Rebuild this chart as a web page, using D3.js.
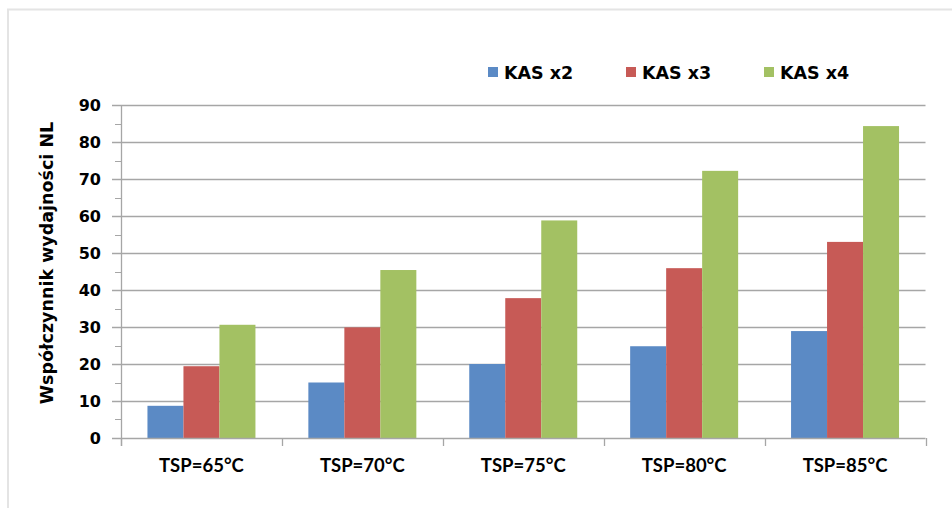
<!DOCTYPE html>
<html>
<head>
<meta charset="utf-8">
<script src="https://cdn.jsdelivr.net/npm/d3@7"></script>
<style>
html,body{margin:0;padding:0;background:#fff;}
svg{display:block;}
</style>
</head>
<body>
<svg id="chart" width="952" height="508"></svg>
<script>
const categories = ["TSP=65°C", "TSP=70°C", "TSP=75°C", "TSP=80°C", "TSP=85°C"];
const seriesNames = ["KAS x2", "KAS x3", "KAS x4"];
const kas2 = [8.7, 15.0, 20.0, 24.8, 28.9];
const kas3 = [19.4, 29.9, 37.8, 45.9, 53.0];
const kas4 = [30.6, 45.4, 58.8, 72.2, 84.3];
const yTicks = [0, 10, 20, 30, 40, 50, 60, 70, 80, 90];
const colors = ["#5B8AC5", "#C75A56", "#A3C163"];

(function () {
const seriesValues = [kas2, kas3, kas4];
const svg = d3.select("#chart");
const boldFont = "'DejaVu Sans', Verdana, sans-serif";

// outer frame
svg.append("rect").attr("x", 8).attr("y", 9.5).attr("width", 960).attr("height", 520)
  .attr("fill", "none").attr("stroke", "#e4e4e4").attr("stroke-width", 2);

const pLeft = 121, pRight = 925.5, pTop = 105, pBottom = 438;

const x0 = d3.scaleBand().domain(categories).range([pLeft, pRight]).paddingInner(0).paddingOuter(0);
const x1 = d3.scaleBand().domain(seriesNames).range([0, x0.bandwidth()]).paddingInner(0).paddingOuter(0.735);
const y = d3.scaleLinear().domain([0, 90]).range([pBottom, pTop]);

// gridlines
svg.append("g").selectAll("line").data(yTicks.filter(d => d > 0)).join("line")
  .attr("x1", pLeft - 9).attr("x2", pRight)
  .attr("y1", d => Math.round(y(d)) + 0.5).attr("y2", d => Math.round(y(d)) + 0.5)
  .attr("stroke", "#a6a6a6").attr("stroke-width", 1.3);

// minor ticks
const minor = d3.range(5, 90, 10);
svg.append("g").selectAll("line").data(minor).join("line")
  .attr("x1", pLeft - 6).attr("x2", pLeft)
  .attr("y1", d => Math.round(y(d)) + 0.5).attr("y2", d => Math.round(y(d)) + 0.5)
  .attr("stroke", "#a6a6a6").attr("stroke-width", 1);

// bars
const groups = svg.append("g").selectAll("g").data(categories).join("g")
  .attr("transform", c => `translate(${x0(c)},0)`);
groups.selectAll("rect").data((c, i) => seriesNames.map((s, j) => ({s, j, v: seriesValues[j][i]}))).join("rect")
  .attr("x", d => x1(d.s)).attr("width", x1.bandwidth())
  .attr("y", d => y(d.v)).attr("height", d => y(0) - y(d.v))
  .attr("fill", d => colors[d.j]);

// y axis line
svg.append("line").attr("x1", pLeft + 0.5).attr("x2", pLeft + 0.5).attr("y1", pTop).attr("y2", pBottom + 8)
  .attr("stroke", "#a6a6a6").attr("stroke-width", 1.3);
// x axis line
svg.append("line").attr("x1", pLeft - 9).attr("x2", pRight).attr("y1", pBottom + 0.5).attr("y2", pBottom + 0.5)
  .attr("stroke", "#a6a6a6").attr("stroke-width", 1.3);
// category ticks
const bounds = categories.map(c => x0(c)).concat([pRight]);
svg.append("g").selectAll("line").data(bounds).join("line")
  .attr("x1", d => Math.round(d) + 0.5).attr("x2", d => Math.round(d) + 0.5)
  .attr("y1", pBottom).attr("y2", pBottom + 8)
  .attr("stroke", "#a6a6a6").attr("stroke-width", 1.3);

// y tick labels
svg.append("g").selectAll("text").data(yTicks).join("text")
  .attr("x", 101).attr("y", d => y(d)).attr("dy", "0.36em")
  .attr("text-anchor", "end")
  .attr("font-family", boldFont).attr("font-weight", "bold").attr("font-size", 16)
  .attr("fill", "#000").text(d => d);

// category labels
svg.append("g").selectAll("text").data(categories).join("text")
  .attr("x", c => x0(c) + x0.bandwidth() / 2).attr("y", 472)
  .attr("text-anchor", "middle")
  .attr("font-family", "Lato, sans-serif").attr("font-weight", "bold").attr("font-size", 18.5)
  .attr("fill", "#000").text(c => c);

// y title
svg.append("text").attr("transform", "translate(53,263) rotate(-90)")
  .attr("text-anchor", "middle")
  .attr("font-family", boldFont).attr("font-weight", "bold").attr("font-size", 17.5)
  .attr("fill", "#000").text("Współczynnik wydajności NL");

// legend
const legendX = [488, 626, 764];
const lg = svg.append("g").selectAll("g").data(seriesNames).join("g")
  .attr("transform", (d, i) => `translate(${legendX[i]},0)`);
lg.append("rect").attr("x", 0).attr("y", 67).attr("width", 10).attr("height", 10)
  .attr("fill", (d, i) => colors[i]);
lg.append("text").attr("x", 16).attr("y", 79)
  .attr("font-family", boldFont).attr("font-weight", "bold").attr("font-size", 17.5)
  .attr("fill", "#000").text(d => d);
})();
</script>
</body>
</html>
